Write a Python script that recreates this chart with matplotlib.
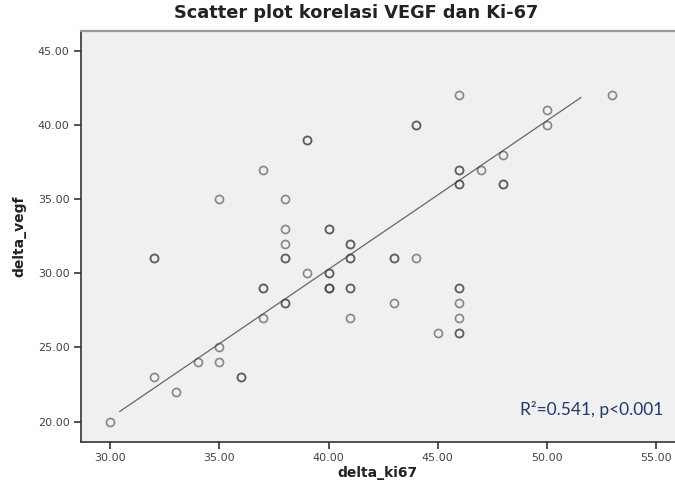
import numpy as np
import matplotlib
matplotlib.use('Agg')
import matplotlib.pyplot as plt

# delta_ki67 / delta_vegf pairs (repeated pairs = overlapping cases)
ki67 = [30, 32, 32, 32, 33, 34, 35, 35, 35, 36, 36,
        37, 37, 37, 37, 38, 38, 38, 38, 38, 38, 38,
        39, 39, 39, 40, 40, 40, 40, 40, 40, 40,
        41, 41, 41, 41, 41, 41, 41, 43, 43, 43,
        44, 44, 44, 45, 46, 46, 46, 46, 46, 46, 46, 46, 46, 46, 46,
        47, 48, 48, 48, 50, 50, 53]
vegf = [20, 23, 31, 31, 22, 24, 24, 25, 35, 23, 23,
        37, 29, 29, 27, 35, 33, 32, 31, 31, 28, 28,
        39, 39, 30, 33, 33, 30, 30, 29, 29, 29,
        32, 32, 31, 29, 29, 27, 31, 31, 31, 28,
        40, 40, 31, 26, 42, 37, 37, 36, 36, 29, 29, 28, 27, 26, 26,
        37, 38, 36, 36, 41, 40, 42]

x_ticks = [30, 35, 40, 45, 50, 55]
y_ticks = [20, 25, 30, 35, 40, 45]

# fit line as drawn in the chart (slope/intercept)
fit_slope = 1.002
fit_intercept = -9.81
fit_range = (30.43, 51.56)

fig = plt.figure(figsize=(6.75, 4.88), dpi=100)
ax = fig.add_axes([0.1196, 0.0943, 0.8804, 0.8428])
ax.set_facecolor('#f0f0f0')

ax.plot(ki67, vegf, linestyle='none', marker='o', markersize=5.8,
        markerfacecolor='none', markeredgecolor=(0.25, 0.25, 0.25, 0.6),
        markeredgewidth=1.2, zorder=3)

fx = np.array(fit_range)
ax.plot(fx, fit_slope * fx + fit_intercept, color='#666666', linewidth=0.9, zorder=2)

ax.set_xlim(28.64, 55.88)
ax.set_ylim(18.62, 46.37)
ax.set_xticks(x_ticks)
ax.set_yticks(y_ticks)
ax.set_xticklabels(['%.2f' % v for v in x_ticks])
ax.set_yticklabels(['%.2f' % v for v in y_ticks])
ax.tick_params(direction='out', length=5, width=1.2, colors='#333333',
               labelsize=8, labelcolor='#444444', pad=3)

ax.spines['right'].set_visible(False)
ax.spines['top'].set_color('#999999')
ax.spines['top'].set_linewidth(1.6)
for s in ('left', 'bottom'):
    ax.spines[s].set_color('#333333')
    ax.spines[s].set_linewidth(1.2)

ax.set_xlabel('delta_ki67', fontsize=10, fontweight='bold', color='#222222', labelpad=2)
ax.set_ylabel('delta_vegf', fontsize=10, fontweight='bold', color='#222222', labelpad=8)
fig.text(0.527, 1 - 13 / 488, 'Scatter plot korelasi VEGF dan Ki-67', fontsize=12.8,
         fontweight='bold', color='#222222', ha='center', va='center')

ax.text(0.98, 0.078, 'R²=0.541, p<0.001', transform=ax.transAxes,
        ha='right', va='center', fontsize=12.5, family='Lato', color='#1f3a6e')

fig.savefig('out.png', dpi=100)
